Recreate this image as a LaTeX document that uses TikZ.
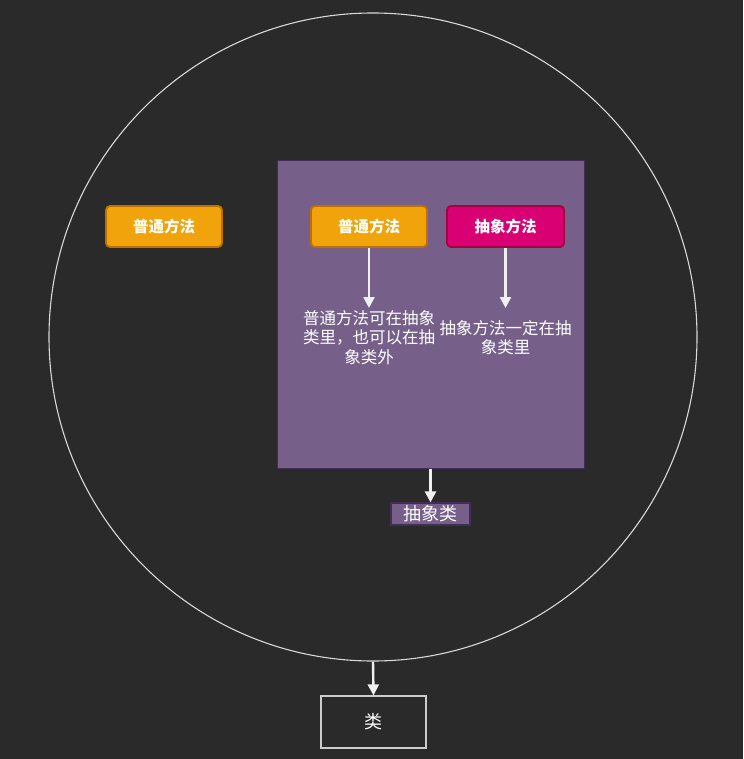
\documentclass[tikz,border=0pt]{standalone}
\usepackage{fontspec}
\setmainfont{Noto Sans CJK SC}
\newfontfamily\cjk{Noto Sans CJK SC}
\usetikzlibrary{arrows.meta}
\definecolor{bg}{HTML}{2A2A2A}
\definecolor{orfill}{HTML}{F0A30A}
\definecolor{ordraw}{HTML}{BD7000}
\definecolor{mgfill}{HTML}{D80073}
\definecolor{mgdraw}{HTML}{A50040}
\definecolor{pufill}{HTML}{76608A}
\definecolor{pudraw}{HTML}{432D57}
\definecolor{ln}{HTML}{F0F0F0}
\tikzset{
  method/.style={draw, line width=1.8pt, rounded corners=4pt, minimum width=116pt, minimum height=41pt, inner sep=0pt, text=white, font=\cjk\bfseries\fontsize{15.5}{17}\selectfont},
  note/.style={text=white, align=center, inner sep=0pt, font=\cjk\fontsize{16.5}{19.5}\selectfont},
  arr/.style={draw=ln, line width=2.4pt, -{Triangle[width=11pt,length=11pt]}},
}
\begin{document}
\begin{tikzpicture}[x=1pt,y=-1pt]
\fill[bg] (0,0) rectangle (743,759);
\useasboundingbox (0,0) rectangle (743,759);
\node[draw=ln!90!black, line width=1.1pt, circle, minimum size=648pt, inner sep=0pt] (cls) at (373,337) {};
\node[draw=pudraw, fill=pufill, line width=1pt, minimum width=307pt, minimum height=307pt, inner sep=0pt] (abs) at (430.5,314.5) {};
\node[method, fill=orfill, draw=ordraw] (m1) at (164,226.5) {普通方法};
\node[method, fill=orfill, draw=ordraw] (m2) at (369,226.5) {普通方法};
\node[method, fill=mgfill, draw=mgdraw, minimum width=117pt] (m3) at (505.5,226.5) {抽象方法};
\node[note] (t1) at (369,337.5) {普通方法可在抽象\\类里，也可以在抽\\象类外};
\node[note] (t2) at (505.5,337.5) {抽象方法一定在抽\\象类里};
\node[draw=pudraw, fill=pufill, line width=1.2pt, minimum width=79pt, minimum height=22pt, inner sep=0pt, text=white, font=\cjk\fontsize{18}{19}\selectfont] (absl) at (430.5,514) {抽象类};
\node[draw=ln!85!black, line width=1.2pt, minimum width=105pt, minimum height=52pt, inner sep=0pt, text=white, font=\cjk\fontsize{18}{19}\selectfont] (clsl) at (373.5,722) {类};
\draw[arr] (m2.south) -- (369,308);
\draw[arr] (m3.south) -- (505.5,308);
\draw[arr] (abs.south) -- (absl.north);
\draw[arr] (cls.south) -- (clsl.north);
\end{tikzpicture}
\end{document}
